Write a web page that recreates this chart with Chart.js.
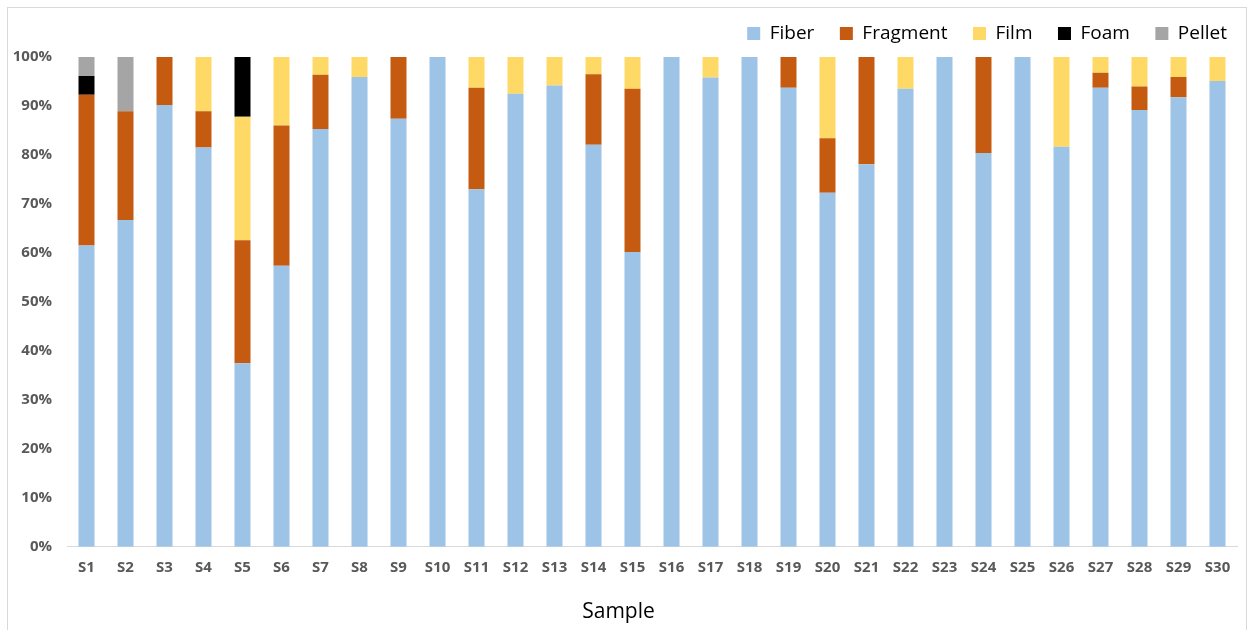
<!DOCTYPE html>
<html>
<head>
<meta charset="utf-8">
<script src="https://cdn.jsdelivr.net/npm/chart.js@4.4.1/dist/chart.umd.min.js"></script>
<style>
  html, body { margin: 0; padding: 0; background: #fff; }
  #wrap { position: relative; width: 1253px; height: 630px; }
  #frame { position: absolute; left: 7px; top: 7px; width: 1238px; height: 640px; border: 1px solid #d9d9d9; pointer-events: none; }
</style>
</head>
<body>
<div id="wrap">
  <canvas id="chart" width="1253" height="630"></canvas>
  <div id="frame"></div>
</div>
<script>
const samples = ['S1','S2','S3','S4','S5','S6','S7','S8','S9','S10','S11','S12','S13','S14','S15',
                 'S16','S17','S18','S19','S20','S21','S22','S23','S24','S25','S26','S27','S28','S29','S30'];

// share of each particle shape per sample (%)
const fiber    = [61.5, 66.7, 90.2, 81.5, 37.5, 57.4, 85.3, 95.9, 87.4, 100, 73.0, 92.5, 94.2, 82.1, 60.2,
                  100, 95.8, 100, 93.7, 72.3, 78.1, 93.5, 100, 80.4, 100, 81.7, 93.7, 89.2, 91.8, 95.1];
const fragment = [30.8, 22.2, 9.8, 7.4, 25.1, 28.6, 11.1, 0, 12.6, 0, 20.7, 0, 0, 14.4, 33.3,
                  0, 0, 0, 6.3, 11.1, 21.9, 0, 0, 19.6, 0, 0, 3.1, 4.8, 4.1, 0];
const film     = [0, 0, 0, 11.1, 25.2, 14.0, 3.6, 4.1, 0, 0, 6.3, 7.5, 5.8, 3.5, 6.5,
                  0, 4.2, 0, 0, 16.6, 0, 6.5, 0, 0, 0, 18.3, 3.2, 6.0, 4.1, 4.9];
const foam     = [3.8, 0, 0, 0, 12.2, 0, 0, 0, 0, 0, 0, 0, 0, 0, 0,
                  0, 0, 0, 0, 0, 0, 0, 0, 0, 0, 0, 0, 0, 0, 0];
const pellet   = [3.9, 11.1, 0, 0, 0, 0, 0, 0, 0, 0, 0, 0, 0, 0, 0,
                  0, 0, 0, 0, 0, 0, 0, 0, 0, 0, 0, 0, 0, 0, 0];

const seriesNames  = ['Fiber', 'Fragment', 'Film', 'Foam', 'Pellet'];
const seriesColors = ['#9dc3e6', '#c55a11', '#ffd966', '#000000', '#a5a5a5'];
const seriesData   = [fiber, fragment, film, foam, pellet];

const FONT = '"Open Sans", "Liberation Sans", sans-serif';

// legend: fixed band height above the plot, nudged into place after layout
const legendTweak = {
    id: 'legendTweak',
    beforeLayout(chart) {
        const lg = chart.legend;
        if (lg && !lg._patched) {
            const fit = lg.fit;
            lg.fit = function () { fit.call(this); this.height = 57; };
            lg._patched = true;
        }
    },
    afterLayout(chart) {
        const lg = chart.legend;
        lg.top -= 1.5; lg.bottom -= 1.5;
        lg.left += 15.5; lg.right += 15.5;
    }
};

const ctx = document.getElementById('chart').getContext('2d');
new Chart(ctx, {
    type: 'bar',
    data: {
        labels: samples,
        datasets: seriesNames.map((name, i) => ({
            label: name,
            data: seriesData[i],
            backgroundColor: seriesColors[i],
            borderWidth: 0,
            barPercentage: 0.41,
            categoryPercentage: 1.0
        }))
    },
    options: {
        responsive: false,
        animation: false,
        layout: { padding: { left: 0, right: 16, top: 0, bottom: 0 } },
        plugins: {
            legend: {
                position: 'top',
                align: 'end',
                labels: {
                    boxWidth: 13,
                    boxHeight: 13,
                    padding: 25.5,
                    color: '#000',
                    font: { family: FONT, size: 19 }
                }
            },
            title: {
                display: true,
                position: 'bottom',
                text: 'Sample',
                color: '#000',
                padding: { top: 3, bottom: 5 },
                font: { family: FONT, size: 21, weight: 'normal' }
            },
            tooltip: { enabled: false }
        },
        scales: {
            x: {
                stacked: true,
                grid: { display: false, drawTicks: false },
                border: { display: true, color: '#d9d9d9', width: 1 },
                ticks: {
                    color: '#595959',
                    padding: 12,
                    maxRotation: 0,
                    font: { family: FONT, size: 15, weight: 'bold' }
                },
                afterFit: scale => { scale.height = 50; }
            },
            y: {
                stacked: true,
                min: 0,
                max: 100,
                grid: { display: false, drawTicks: false },
                border: { display: false },
                ticks: {
                    stepSize: 10,
                    color: '#595959',
                    padding: 15,
                    font: { family: FONT, size: 15, weight: 'bold' },
                    callback: v => v + '%'
                },
                afterFit: scale => { scale.width = 67; }
            }
        }
    },
    plugins: [legendTweak]
});
</script>
</body>
</html>
